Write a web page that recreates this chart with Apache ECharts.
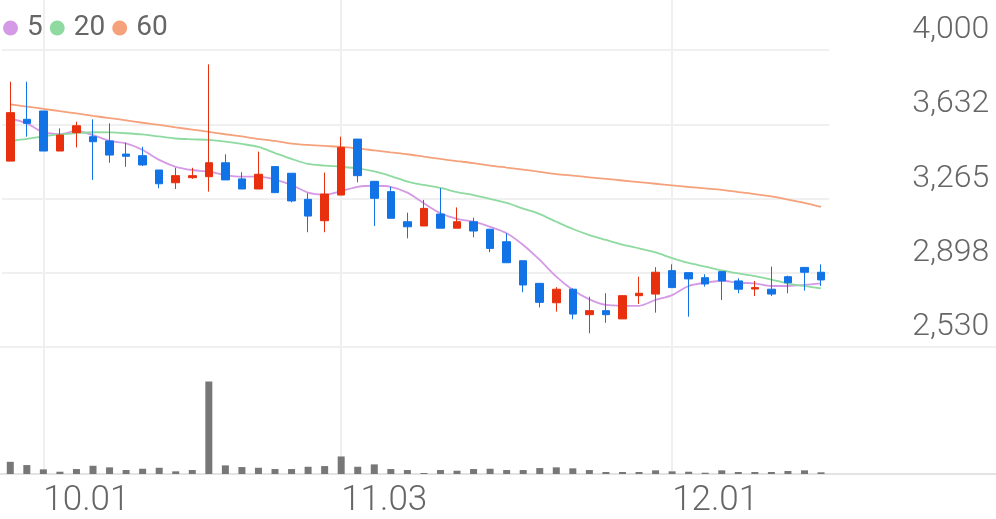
<!DOCTYPE html>
<html>
<head>
<meta charset="utf-8">
<script src="https://cdn.jsdelivr.net/npm/echarts@6/dist/echarts.min.js"></script>
<style>html,body{margin:0;padding:0;background:#fff;}#c{width:996px;height:519px;}</style>
</head>
<body>
<div id="c"></div>
<script>
const dates = ["09.27","09.28","10.01","10.02","10.05","10.06","10.07","10.08","10.12","10.13",
"10.14","10.15","10.16","10.19","10.20","10.21","10.22","10.23","10.26","10.27",
"11.03","11.04","11.05","11.06","11.09","11.10","11.11","11.12","11.13","11.16",
"11.17","11.18","11.19","11.20","11.23","11.24","11.25","11.26","11.27","11.30",
"12.01","12.02","12.03","12.04","12.07","12.08","12.09","12.10","12.11","12.14"];
const shownDates = ["10.01","11.03","12.01"];
const opens  = [3450,3657,3698,3500,3591,3571,3550,3485,3477,3406,3343,3368,3373,3442,3362,3312,3423,3390,3261,3155,
3282,3559,3350,3299,3150,3129,3188,3118,3150,3113,3051,2957,2845,2749,2816,2690,2710,2669,2784,2792,
2908,2898,2873,2903,2857,2817,2816,2878,2924,2900];
const closes = [3690,3637,3500,3579,3625,3546,3480,3474,3431,3338,3378,3378,3442,3357,3312,3385,3294,3253,3178,3287,
3518,3378,3266,3167,3125,3216,3118,3150,3104,3018,2947,2837,2751,2816,2693,2710,2690,2784,2796,2900,
2824,2867,2842,2857,2816,2824,2792,2848,2900,2862];
const lows   = [3450,3571,3500,3500,3518,3357,3442,3422,3426,3316,3312,3362,3299,3357,3312,3312,3294,3246,3098,3098,
3282,3345,3129,3167,3068,3129,3118,3118,3073,2999,2947,2801,2726,2705,2667,2598,2650,2669,2743,2700,
2824,2680,2829,2763,2796,2782,2782,2796,2809,2832];
const highs  = [3843,3843,3698,3612,3645,3657,3637,3541,3521,3406,3417,3417,3929,3484,3395,3497,3423,3390,3291,3393,
3571,3559,3352,3323,3195,3258,3316,3221,3170,3113,3093,2957,2845,2826,2820,2779,2796,2784,2878,2925,
2939,2898,2890,2903,2870,2857,2928,2883,2924,2939];
const volumes = [123,90,47,23,50,83,67,40,53,63,27,40,933,87,70,63,50,50,73,80,
177,73,97,50,40,10,40,33,50,53,40,40,60,67,57,40,20,20,20,37,
27,23,13,37,20,20,20,30,37,17];
const ma5 = [3662,3637,3593,3584,3599,3579,3550,3538,3505,3456,3422,3406,3398,3381,3373,3373,3359,3332,3294,3284,
3302,3323,3328,3323,3294,3241,3192,3164,3150,3125,3093,3035,2961,2878,2812,2766,2738,2734,2734,2763,
2787,2832,2848,2858,2848,2845,2832,2832,2837,2845];
const ma20 = [3550,3560,3572,3582,3589,3593,3592,3588,3582,3572,3562,3558,3555,3547,3535,3520,3490,3461,3436,3428,
3422,3414,3399,3376,3349,3332,3317,3297,3282,3263,3243,3215,3188,3150,3114,3084,3060,3037,3018,2998,
2970,2946,2928,2909,2894,2881,2864,2844,2832,2820];
const ma60 = [3731,3720,3709,3697,3686,3674,3663,3652,3640,3629,3617,3606,3595,3583,3572,3560,3550,3537,3530,3525,
3521,3513,3503,3493,3484,3472,3461,3450,3440,3428,3418,3408,3397,3386,3378,3370,3362,3354,3346,3338,
3330,3322,3315,3308,3297,3287,3275,3260,3243,3223];
const priceTicks = [2530,2897.5,3265,3632.5,4000];
const priceTickLabels = ["2,530","2,898","3,265","3,632","4,000"];

const UP = '#e8300e', DOWN = '#1273e6';
const showDate = (idx, val) => shownDates.indexOf(val) >= 0;

const chart = echarts.init(document.getElementById('c'), null, {renderer:'canvas'});
chart.setOption({
  animation:false,
  backgroundColor:'#fff',
  legend:{
    left:3, top:14, padding:0, icon:'circle', itemWidth:15, itemHeight:15, itemGap:7,
    data:['5','20','60'],
    textStyle:{fontSize:28, color:'#666', fontFamily:'Roboto', padding:[0,0,0,4], lineHeight:28}
  },
  grid:[
    {left:2, right:166.7, top:50, height:297},
    {left:2, right:166.7, top:381.5, height:92.5},
    {left:10.27, width:810.8, top:0, height:474},
    {left:0, right:0, top:347, height:127}
  ],
  xAxis:[
    {type:'category', gridIndex:0, data:dates, boundaryGap:true, show:false},
    {type:'category', gridIndex:1, data:dates, boundaryGap:true, show:false},
    {type:'category', gridIndex:2, data:dates, boundaryGap:false,
      axisLine:{show:false}, axisTick:{show:false},
      axisLabel:{interval:showDate, align:'left', margin:13, fontSize:35, lineHeight:35,
        fontFamily:'Roboto', fontWeight:300, color:'#666'},
      splitLine:{show:true, interval:showDate, lineStyle:{color:'#efefef', width:2}}},
    {type:'value', gridIndex:3, min:0, max:1, show:false}
  ],
  yAxis:[
    {type:'value', gridIndex:0, position:'right', min:priceTicks[0], max:priceTicks[4], interval:367.5,
      axisLine:{show:false}, axisTick:{show:false},
      splitLine:{lineStyle:{color:'#f0f0f0', width:2}},
      axisLabel:{margin:160, align:'right', verticalAlign:'bottom', lineHeight:40, fontSize:32,
        fontFamily:'Roboto', fontWeight:300, color:'#666',
        formatter:function(v){ const i = priceTicks.findIndex(t => Math.abs(t - v) < 1); return i >= 0 ? priceTickLabels[i] : ''; }}},
    {type:'value', gridIndex:1, min:0, max:'dataMax', show:false},
    {type:'value', gridIndex:2, show:false},
    {type:'value', gridIndex:3, min:0, max:1, interval:1,
      axisLine:{show:false}, axisTick:{show:false}, axisLabel:{show:false},
      splitLine:{show:true, lineStyle:{color:['#e3e3e3','#f0f0f0'], width:2}}}
  ],
  series:[
    {type:'candlestick', xAxisIndex:0, yAxisIndex:0, z:5, barWidth:8,
      data:dates.map((d,i)=>[opens[i], closes[i], lows[i], highs[i]]),
      itemStyle:{color:UP, color0:DOWN, borderColor:UP, borderColor0:DOWN, borderWidth:1}},
    {name:'5', type:'line', xAxisIndex:0, yAxisIndex:0, z:3, data:ma5, showSymbol:false, smooth:0.3,
      lineStyle:{color:'#d59ae6', width:1.8}, itemStyle:{color:'#d59ae6'}},
    {name:'20', type:'line', xAxisIndex:0, yAxisIndex:0, z:3, data:ma20, showSymbol:false, smooth:0.3,
      lineStyle:{color:'#8edaa0', width:1.8}, itemStyle:{color:'#8edaa0'}},
    {name:'60', type:'line', xAxisIndex:0, yAxisIndex:0, z:3, data:ma60, showSymbol:false, smooth:0.3,
      lineStyle:{color:'#f5a27c', width:1.8}, itemStyle:{color:'#f5a27c'}},
    {type:'bar', xAxisIndex:1, yAxisIndex:1, data:volumes, barWidth:7, itemStyle:{color:'#777'}}
  ]
});
</script>
</body>
</html>
